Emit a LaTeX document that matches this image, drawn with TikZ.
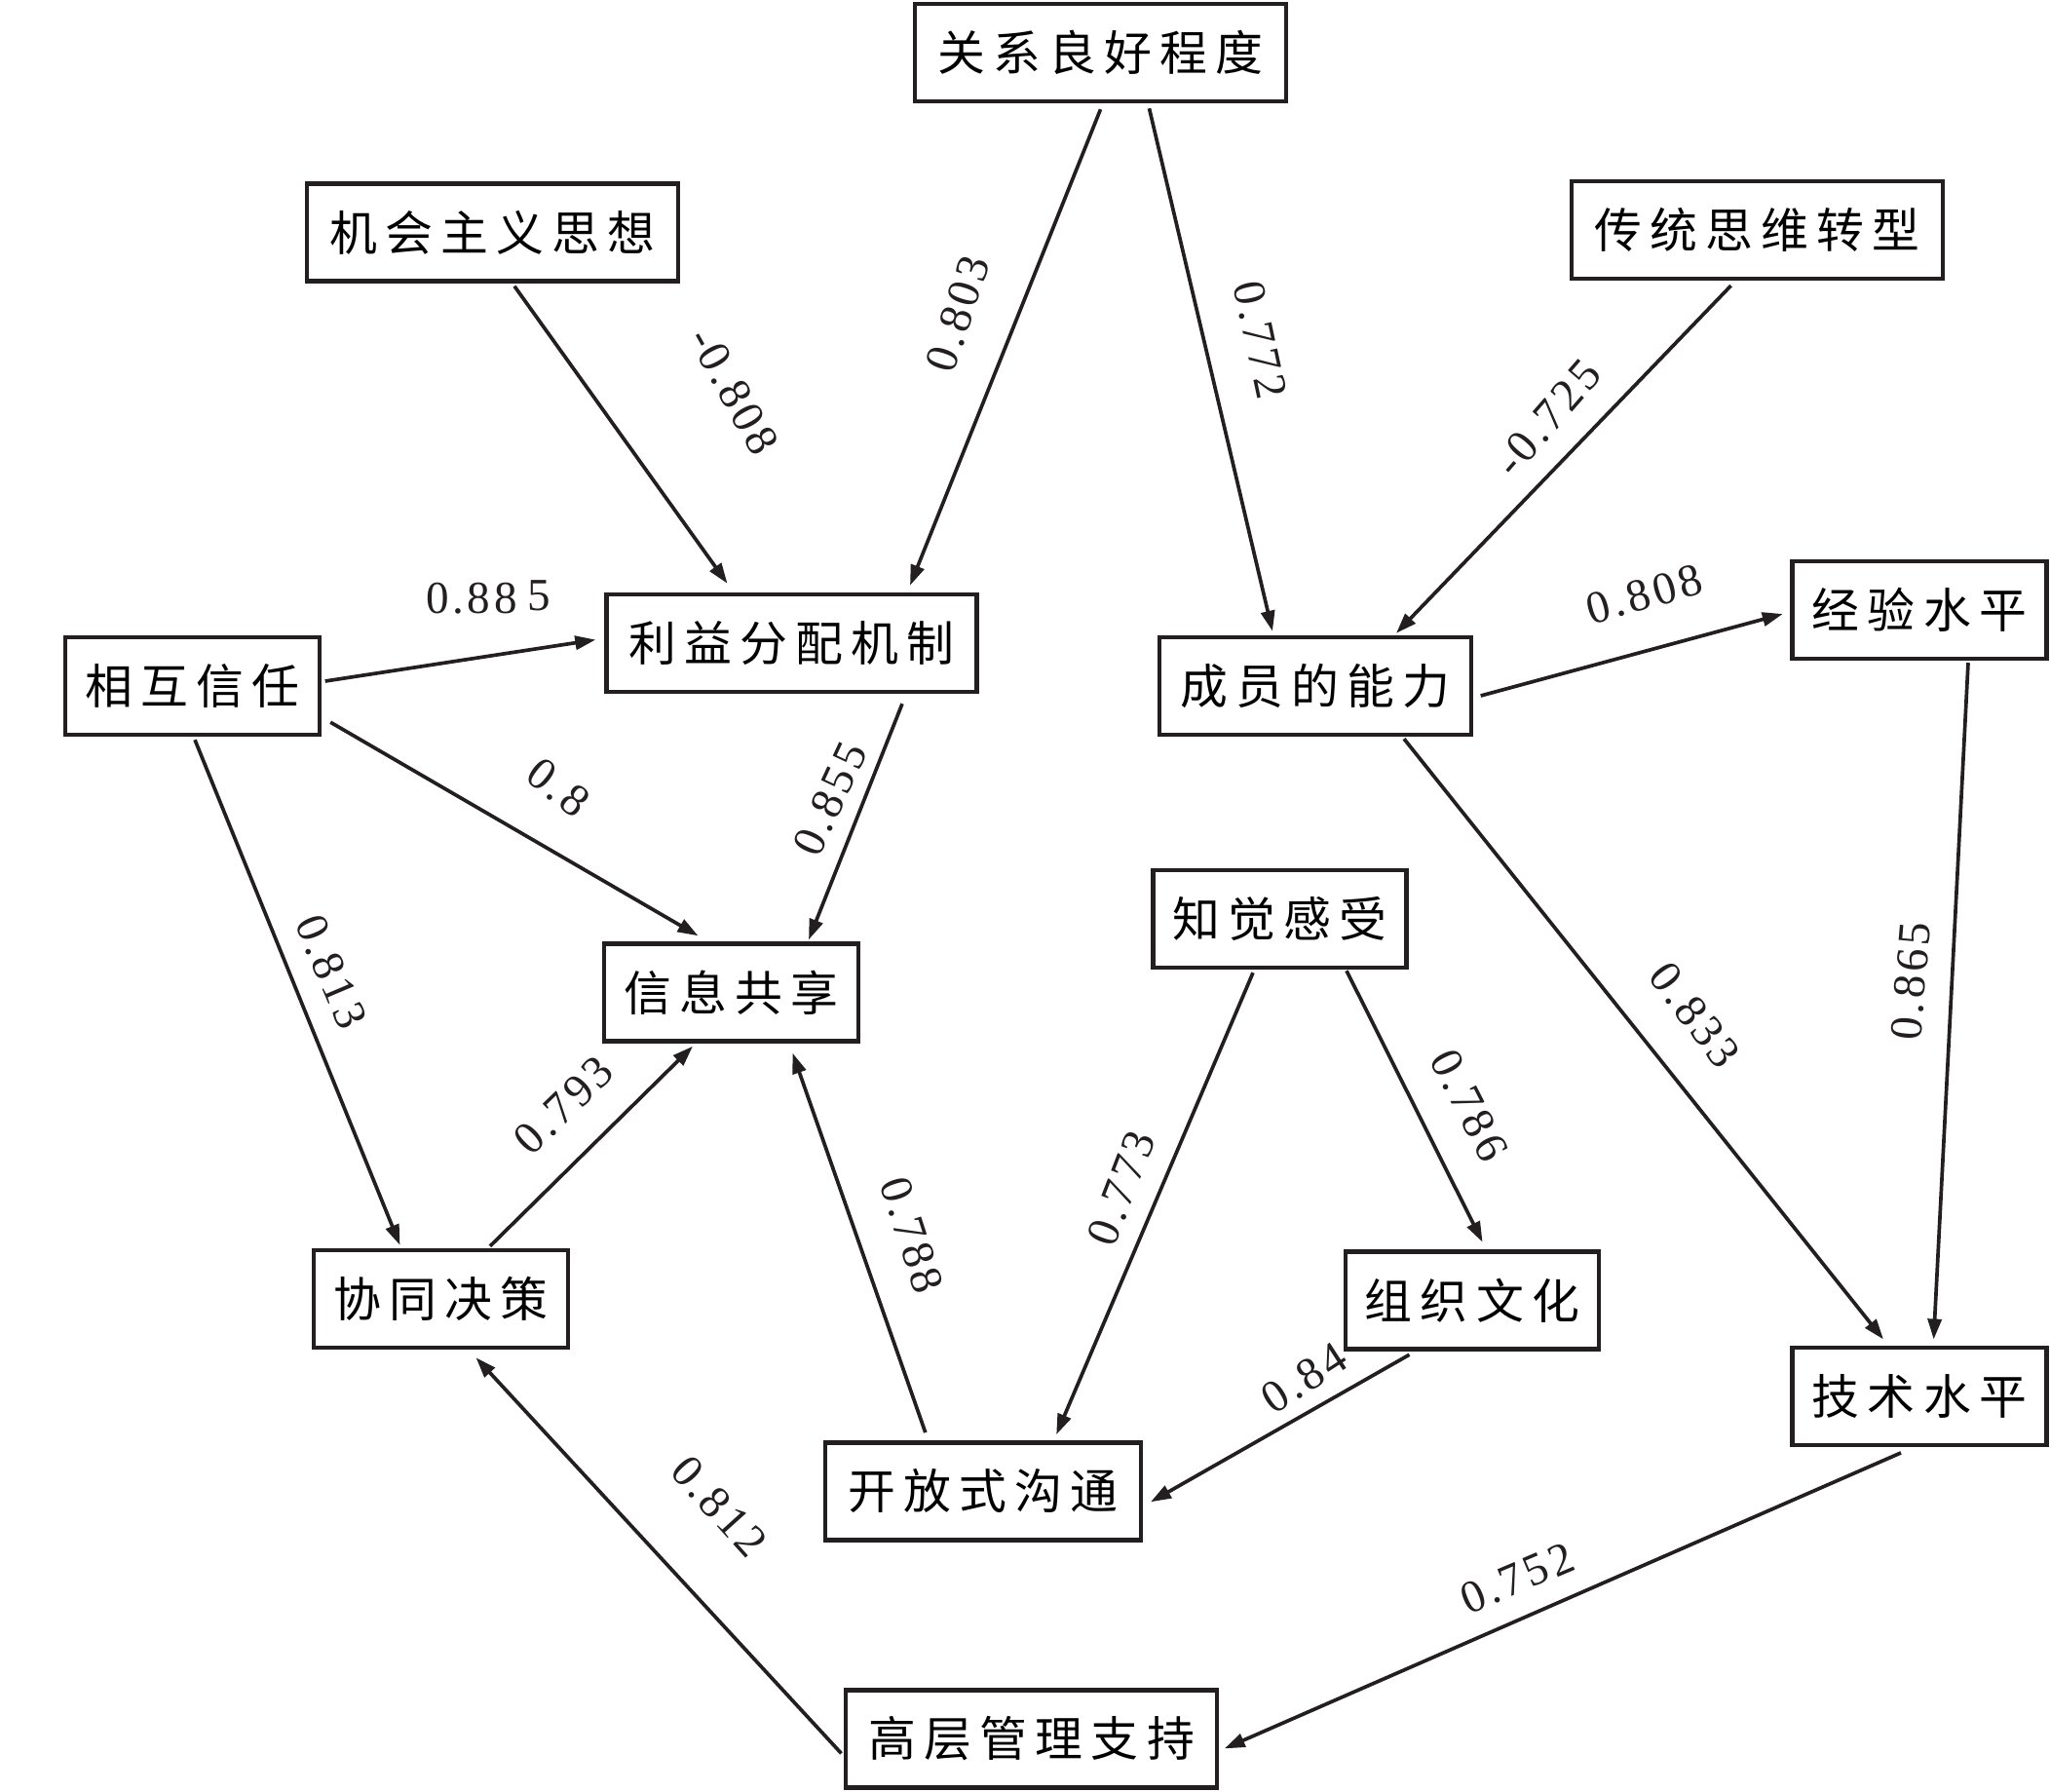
\documentclass[tikz,border=0pt]{standalone}
\usepackage{fontspec}
\setmainfont{Liberation Serif}
\newfontfamily\cjk[LetterSpace=17]{Noto Sans CJK SC}
\usetikzlibrary{%
  arrows.meta%
}
\definecolor{ink}{RGB}{35,31,32}

\begin{document}
\begin{tikzpicture}[
      factor/.style={
        rectangle,
        draw=ink,
        line width=1.25pt,
        inner sep=0pt,
        minimum height=1.0cm,
        minimum width=#1,
        font=\cjk\fontsize{13.9}{16}\selectfont
      },
      affects/.style={
        -{Triangle[length=0.21cm,width=0.14cm]},
        draw=ink,
        line width=1.05pt
      },
      weight/.style={
        inner sep=0pt,
        text=ink,
        font=\rmfamily\fontsize{13.4}{15}\selectfont\addfontfeatures{LetterSpace=8}
      }
    ]
    \useasboundingbox (0,0) rectangle (21.04,-18.38);

    \node[factor=3.81cm] (Relation) at (11.295,-0.54) {关系良好程度};
    \node[factor=3.81cm] (Opportunism) at (5.055,-2.385) {机会主义思想};
    \node[factor=3.81cm] (Tradition) at (18.035,-2.36) {传统思维转型};
    \node[factor=3.80cm] (Benefit) at (8.125,-6.60) {利益分配机制};
    \node[factor=2.61cm] (Trust) at (1.975,-7.04) {相互信任};
    \node[factor=3.20cm] (Ability) at (13.50,-7.04) {成员的能力};
    \node[factor=2.61cm] (Experience) at (19.70,-6.26) {经验水平};
    \node[factor=2.61cm] (Sharing) at (7.505,-10.185) {信息共享};
    \node[factor=2.60cm] (Perception) at (13.135,-9.43) {知觉感受};
    \node[factor=2.61cm] (Decision) at (4.525,-13.33) {协同决策};
    \node[factor=2.60cm] (Culture) at (15.11,-13.345) {组织文化};
    \node[factor=2.61cm] (Technique) at (19.70,-14.327) {技术水平};
    \node[factor=3.24cm] (Openness) at (10.088,-15.303) {开放式沟通};
    \node[factor=3.81cm] (Support) at (10.587,-17.844) {高层管理支持};

    \draw[affects] ([yshift=-0.06cm]Relation.south)
      -- ([xshift=1.215cm,yshift=0.07cm]Benefit.north);
    \draw[affects] ([xshift=0.5cm,yshift=-0.05cm]Relation.south)
      -- ([xshift=-0.44cm,yshift=0.04cm]Ability.north);
    \draw[affects] ([xshift=0.225cm,yshift=-0.03cm]Opportunism.south)
      -- ([xshift=-0.66cm,yshift=0.09cm]Benefit.north);
    \draw[affects] ([xshift=-0.27cm,yshift=-0.05cm]Tradition.south)
      -- ([xshift=0.83cm,yshift=0.02cm]Ability.north);
    \draw[affects] ([xshift=0.035cm,yshift=0.05cm]Trust.east)
      -- ([xshift=-0.09cm,yshift=0.035cm]Benefit.west);
    \draw[affects] ([xshift=0.09cm,yshift=0.15cm]Trust.south east)
      -- ([xshift=-0.34cm,yshift=0.06cm]Sharing.north);
    \draw[affects] ([xshift=1.135cm,yshift=-0.1cm]Benefit.south)
      -- ([xshift=0.795cm,yshift=0.02cm]Sharing.north);
    \draw[affects] ([xshift=0.025cm,yshift=-0.03cm]Trust.south)
      -- ([xshift=-0.42cm,yshift=0.03cm]Decision.north);
    \draw[affects] ([xshift=0.505cm,yshift=0.02cm]Decision.north)
      -- ([xshift=-0.395cm,yshift=-0.03cm]Sharing.south);
    \draw[affects] ([xshift=-0.59cm,yshift=0.08cm]Openness.north)
      -- ([xshift=0.63cm,yshift=-0.1cm]Sharing.south);
    \draw[affects] ([xshift=-0.025cm,yshift=-0.15cm]Support.west)
      -- ([xshift=0.36cm,yshift=-0.08cm]Decision.south);
    \draw[affects] ([xshift=0.075cm,yshift=-0.1cm]Ability.east)
      -- ([xshift=-0.075cm,yshift=-0.04cm]Experience.west);
    \draw[affects] ([xshift=0.91cm,yshift=-0.02cm]Ability.south)
      -- ([xshift=-0.37cm,yshift=0.06cm]Technique.north);
    \draw[affects] ([xshift=0.5cm,yshift=-0.02cm]Experience.south)
      -- ([xshift=0.146cm,yshift=0.06cm]Technique.north);
    \draw[affects] ([xshift=-0.275cm,yshift=-0.03cm]Perception.south)
      -- ([xshift=0.754cm,yshift=0.06cm]Openness.north);
    \draw[affects] ([xshift=0.685cm,yshift=-0.01cm]Perception.south)
      -- ([xshift=0.106cm,yshift=0.076cm]Culture.north);
    \draw[affects] ([xshift=-0.645cm,yshift=-0.035cm]Culture.south)
      -- ([xshift=0.08cm,yshift=-0.11cm]Openness.east);
    \draw[affects] ([xshift=-0.19cm,yshift=-0.06cm]Technique.south)
      -- ([xshift=0.053cm,yshift=-0.1cm]Support.east);

    \node[weight, rotate=72] (wRelBen) at (9.83,-3.22) {0.803};
    \node[weight, rotate=-78] (wRelAbil) at (12.935,-3.487) {0.772};
    \node[weight, rotate=-61] (wOppBen) at (7.53,-4.01) {-0.808};
    \node[weight, rotate=49] (wTradAbil) at (15.885,-4.29) {-0.725};
    \node[weight] (wTrustBen) at (5.01,-6.13) {0.88\kern3pt\raisebox{1pt}{5}};
    \node[weight, rotate=-38] (wTrustShare) at (5.73,-8.08) {0.8};
    \node[weight, rotate=65] (wBenShare) at (8.52,-8.20) {0.855};
    \node[weight, rotate=16] (wAbilExp) at (16.877,-6.10) {0.808};
    \node[weight, rotate=-67] (wTrustDeci) at (3.40,-9.97) {0.813};
    \node[weight, rotate=44] (wDeciShare) at (5.785,-11.344) {0.793};
    \node[weight, rotate=-72] (wOpenShare) at (9.36,-12.677) {0.788};
    \node[weight, rotate=-48] (wSuppDeci) at (7.38,-15.46) {0.812};
    \node[weight, rotate=-53] (wAbilTech) at (17.396,-10.42) {0.833};
    \node[weight, rotate=85] (wExpTech) at (19.61,-10.07) {0.865};
    \node[weight, rotate=-63] (wPercCult) at (15.08,-11.344) {0.786};
    \node[weight, rotate=69] (wPercOpen) at (11.51,-12.194) {0.773};
    \node[weight, rotate=33] (wCultOpen) at (13.387,-14.143) {0.84};
    \node[weight, rotate=23] (wTechSupp) at (15.57,-16.194) {0.752};
  \end{tikzpicture}
\end{document}
